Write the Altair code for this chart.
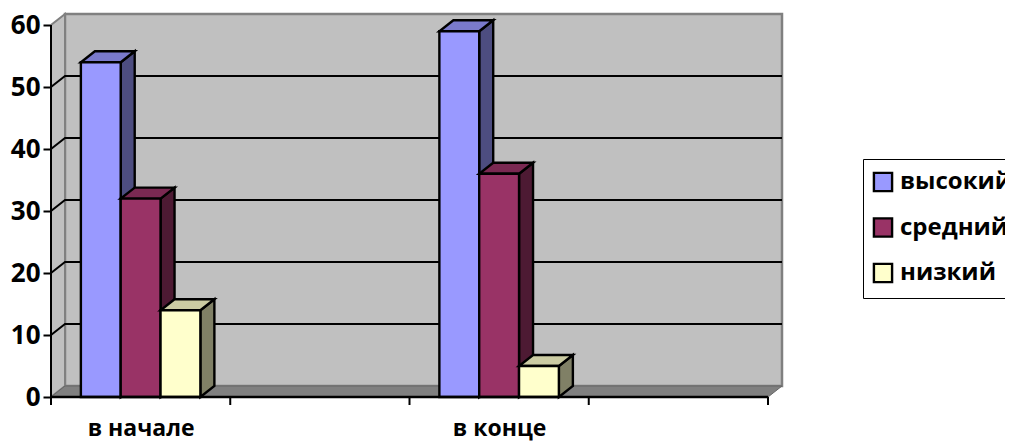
import altair as alt
import pandas as pd

categories = ["в начале", "", "в конце", ""]
series = ["высокий", "средний", "низкий"]
values = {
    "высокий": [54, None, 59, None],
    "средний": [32, None, 36, None],
    "низкий": [14, None, 5, None],
}
front_colors = ["#9999ff", "#993366", "#ffffcc"]
side_colors = ["#4d4d80", "#4d1a33", "#808066"]
top_colors = ["#7a7acc", "#7a2952", "#cccca3"]
y_ticks = [0, 10, 20, 30, 40, 50, 60]
grid_values = [10, 20, 30, 40, 50]

FONT = "Open Sans"
W, H = 731, 383
DX = 14 / 179.25      # depth in category units
DY = 11 / 6.2         # depth in value units
N = len(categories)
GAP = 1 / 6
BW = 2 / 9

xs = alt.Scale(domain=[0, N + DX], nice=False, zero=False)
ys = alt.Scale(domain=[0, 60 + DY], nice=False, zero=False)

label_pos = [c + 0.5 for c, t in enumerate(categories) if t]
label_text = [t for t in categories if t]
label_expr = " : ".join(
    f"datum.value == {p} ? '{t}'" for p, t in zip(label_pos, label_text)
) + " : ''"

x_axis = alt.Axis(
    values=label_pos, labelExpr=label_expr, ticks=False, domain=False, grid=False,
    title=None, labelFont=FONT, labelFontSize=23, labelFontWeight="bold",
    labelColor="black", labelPadding=20, labelAngle=0, labelFlush=False,
)
y_axis = alt.Axis(
    values=y_ticks, domain=False, grid=False, title=None, tickColor="black",
    tickWidth=2, tickSize=8, labelFont=FONT, labelFontSize=26, labelFontWeight="bold",
    labelColor="black", labelPadding=3,
)


def X():
    return alt.X("x", type="quantitative", scale=xs, stack=None, axis=x_axis)


def Y():
    return alt.Y("y", type="quantitative", scale=ys, stack=None, axis=y_axis)


# walls and floor
back = alt.Chart(pd.DataFrame([{"x": DX, "x2": N + DX, "y": DY, "y2": 60 + DY}])).mark_rect(
    fill="#c0c0c0", stroke="#808080", strokeWidth=2.5
).encode(X(), x2="x2", y=Y(), y2="y2")

left = alt.Chart(pd.DataFrame([
    {"x": 0, "y": 0, "y2": 60}, {"x": DX, "y": DY, "y2": 60 + DY}
])).mark_area(fill="#c0c0c0", stroke="#808080", strokeWidth=2, orient="vertical").encode(
    X(), y=Y(), y2="y2"
)

floor = alt.Chart(pd.DataFrame([
    {"y": 0, "x": 0, "x2": N}, {"y": DY, "x": DX, "x2": N + DX}
])).mark_area(fill="#808080", stroke="#666666", strokeWidth=1, orient="horizontal").encode(
    X(), x2="x2", y=Y()
)

# gridlines: along the side wall and across the back wall
grid_rows = []
for g in grid_values:
    grid_rows += [
        {"g": g, "o": 0, "x": 0, "y": g},
        {"g": g, "o": 1, "x": DX, "y": g + DY},
        {"g": g, "o": 2, "x": N + DX, "y": g + DY},
    ]
grid = alt.Chart(pd.DataFrame(grid_rows)).mark_line(color="black", strokeWidth=2).encode(
    X(), y=Y(), detail="g:N", order="o:Q"
)

# bars, painted left to right
bar_layers = []
for i, s in enumerate(series):
    side, top, front = [], [], []
    for c, v in enumerate(values[s]):
        if v is None:
            continue
        x0 = c + GAP + i * BW
        x1 = x0 + BW
        side += [
            {"b": c, "x": x1, "y": 0, "y2": v},
            {"b": c, "x": x1 + DX, "y": DY, "y2": v + DY},
        ]
        top += [
            {"b": c, "y": v, "x": x0, "x2": x1},
            {"b": c, "y": v + DY, "x": x0 + DX, "x2": x1 + DX},
        ]
        front.append({"series": s, "x": x0, "x2": x1, "y": 0, "y2": v})
    bar_layers.append(
        alt.Chart(pd.DataFrame(side)).mark_area(
            fill=side_colors[i], stroke="black", strokeWidth=2.4, orient="vertical"
        ).encode(X(), y=Y(), y2="y2", detail="b:N")
    )
    bar_layers.append(
        alt.Chart(pd.DataFrame(top)).mark_area(
            fill=top_colors[i], stroke="black", strokeWidth=2.4, orient="horizontal"
        ).encode(X(), x2="x2", y=Y(), detail="b:N")
    )
    bar_layers.append(
        alt.Chart(pd.DataFrame(front)).mark_rect(stroke="black", strokeWidth=2.4).encode(
            X(), x2="x2", y=Y(), y2="y2",
            fill=alt.Fill(
                "series:N",
                scale=alt.Scale(domain=series, range=front_colors),
                legend=alt.Legend(
                    title=None, orient="none", legendX=812, legendY=145,
                    fillColor="white", strokeColor="black", padding=11,
                    symbolType="square", symbolSize=330, symbolStrokeColor="black",
                    symbolStrokeWidth=2.4, symbolOpacity=1, symbolOffset=-3,
                    labelFont=FONT, labelFontSize=24, labelFontWeight="bold",
                    labelColor="black", labelOffset=5, rowPadding=17.5,
                    labelLimit=200,
                ),
            ),
        )
    )

# front axis lines
axis_x = alt.Chart(pd.DataFrame([{"x": 0, "x2": N, "y": 0}])).mark_rule(
    color="black", strokeWidth=2.5
).encode(X(), x2="x2", y=Y())
axis_y = alt.Chart(pd.DataFrame([{"x": 0, "y": 0, "y2": 60}])).mark_rule(
    color="black", strokeWidth=2
).encode(X(), y=Y(), y2="y2")

# category ticks
x_ticks = alt.Chart(pd.DataFrame({"x": list(range(N + 1))})).mark_rule(
    color="black", strokeWidth=2
).encode(X(), y=alt.value(H), y2=alt.value(H + 8))

chart = alt.layer(
    back, left, floor, grid, *bar_layers, axis_x, axis_y, x_ticks
).properties(
    width=W, height=H,
    padding={"left": 43, "top": 6, "right": 223, "bottom": 44},
    autosize=alt.AutoSizeParams(type="none"),
    background="white",
).configure_view(stroke=None)

chart.save("out.html", embed_options={"renderer": "svg", "actions": False})
